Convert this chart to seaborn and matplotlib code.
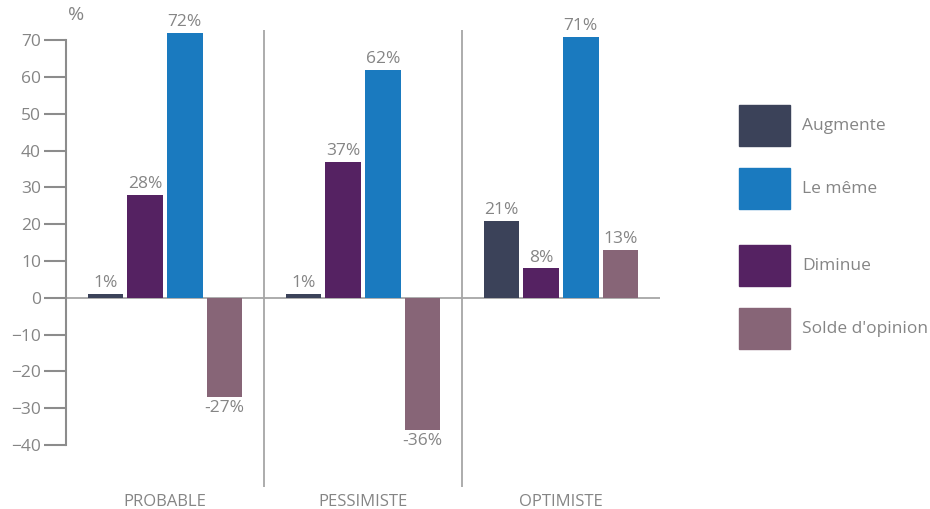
import pandas as pd
import numpy as np
import matplotlib.pyplot as plt
import seaborn as sns
from matplotlib.patches import Rectangle

# data
scenarios = ['PROBABLE', 'PESSIMISTE', 'OPTIMISTE']
series = ['Augmente', 'Diminue', 'Le même', "Solde d'opinion"]
augmente = [1, 1, 21]
diminue = [28, 37, 8]
le_meme = [72, 62, 71]
solde = [-27, -36, 13]
yticks = [70, 60, 50, 40, 30, 20, 10, 0, -10, -20, -30, -40]
legend_order = ['Augmente', 'Le même', 'Diminue', "Solde d'opinion"]

colors = {'Augmente': '#3b4259', 'Diminue': '#552262',
          'Le même': '#1a7abf', "Solde d'opinion": '#876577'}
grey_txt = '#858585'
grey_line = '#a6a6a6'

rows = []
for s, vals in zip(series, [augmente, diminue, le_meme, solde]):
    for sc, v in zip(scenarios, vals):
        rows.append({'scenario': sc, 'serie': s, 'val': v})
df = pd.DataFrame(rows)

sns.set_style('white')
plt.rcParams['font.family'] = ['Open Sans', 'DejaVu Sans']

fig = plt.figure(figsize=[9.3, 5.09], dpi=100)
ax = fig.add_axes([66/930, 1-487/509, (660-66)/930, (487-30)/509])

sns.barplot(data=df, x='scenario', y='val', hue='serie', order=scenarios,
            hue_order=series, palette=colors, width=0.8, gap=0.1,
            legend=False, ax=ax, saturation=1, linewidth=0)

for cont in ax.containers:
    labs = [f'{int(v)}%' for v in cont.datavalues]
    ax.bar_label(cont, labels=labs, padding=2, color=grey_txt, fontsize=12.5)

ax.set_xlim(-0.5, 2.5)
ax.set_ylim(-51.4, 72.8)
ax.axhline(0, color=grey_line, lw=1.3, zorder=0)
for xs in [0.5, 1.5]:
    ax.axvline(xs, color=grey_line, lw=1.3, zorder=0)

for sp in ['top', 'right', 'bottom']:
    ax.spines[sp].set_visible(False)
ax.spines['left'].set_bounds(-40, 70)
ax.spines['left'].set_color('#8c8c8c')
ax.spines['left'].set_linewidth(1.5)
ax.set_yticks(yticks)
ax.tick_params(axis='y', length=16, width=1.5, color='#8c8c8c',
               labelcolor=grey_txt, labelsize=12.5, pad=2, left=True)
ax.tick_params(axis='x', length=0, labelcolor=grey_txt, labelsize=12, pad=5)
ax.set_xlabel('')
ax.set_ylabel('')
ax.text(-0.49, 74.5, '%', color=grey_txt, fontsize=14, ha='left', va='bottom')

# legend
leg_y = [105, 168, 245, 308]
for name, yy in zip(legend_order, leg_y):
    fig.add_artist(Rectangle((739/930, 1-(yy+41)/509), 51/930, 41/509,
                             transform=fig.transFigure, color=colors[name]))
    fig.text(802/930, 1-(yy+21)/509, name, color=grey_txt, fontsize=12.5,
             va='center', ha='left')

plt.savefig('out.png', dpi=100)
